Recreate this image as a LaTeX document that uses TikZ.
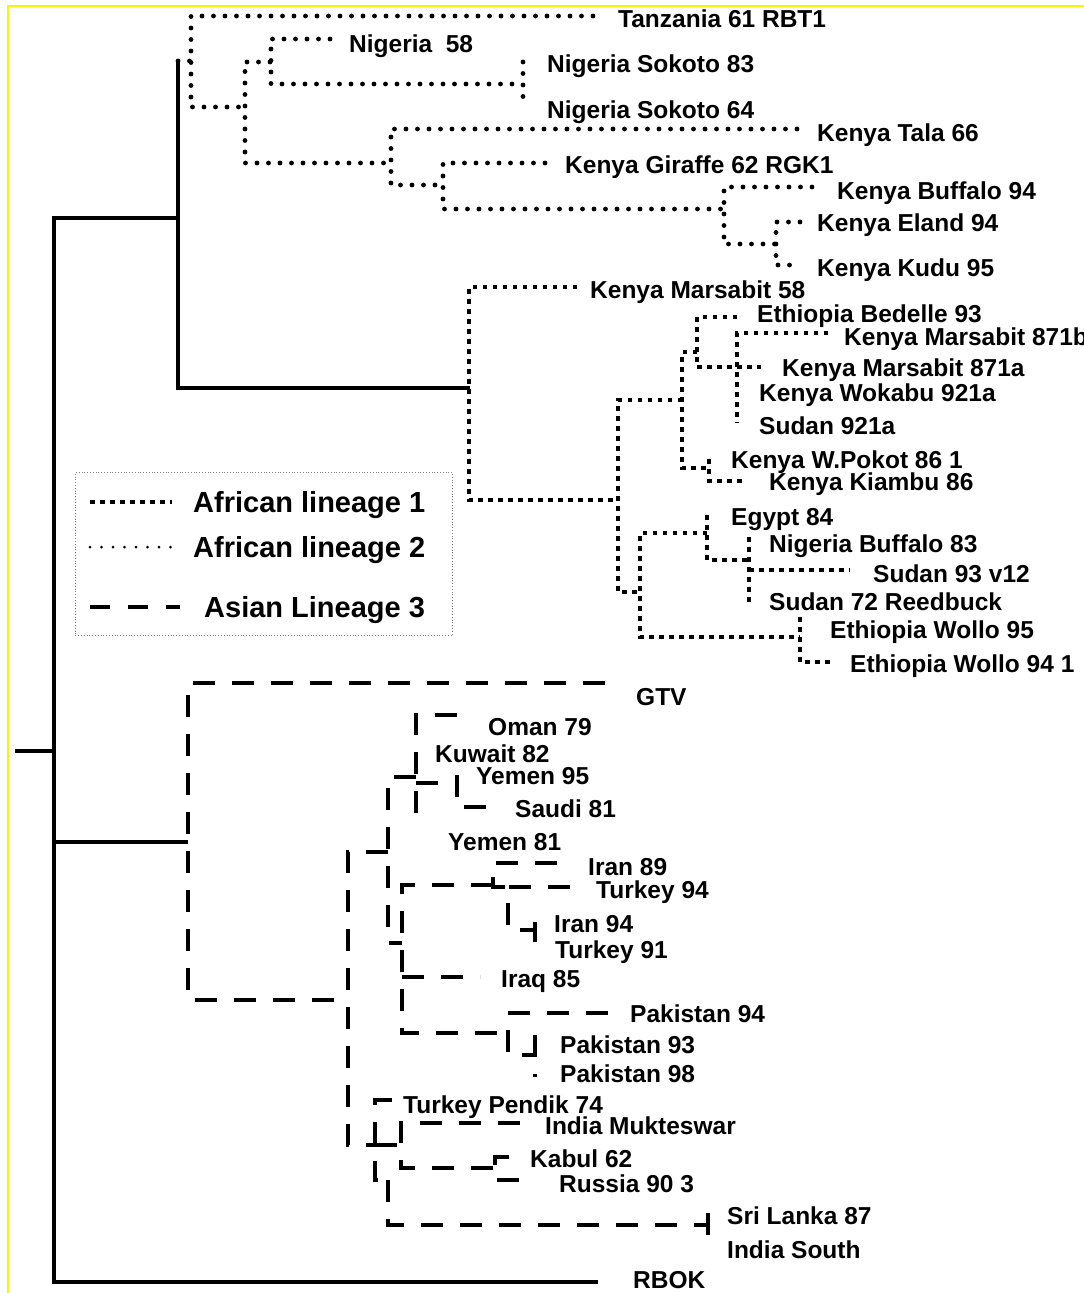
\documentclass[tikz,border=0pt]{standalone}
\usepackage{fontspec}
\setmainfont{Liberation Sans}
\begin{document}
\begin{tikzpicture}[x=1pt,y=-1pt,
  sol/.style={line width=4pt,line join=miter},
  ltwo/.style={line width=4.8pt,line cap=round,dash pattern=on 0pt off 11.5pt},
  ltwoleg/.style={line width=3pt,line cap=round,dash pattern=on 0pt off 11.5pt},
  lone/.style={line width=4.5pt,dash pattern=on 4.5pt off 5.5pt},
  asn/.style={line width=4.5pt,dash pattern=on 22pt off 17pt},
  lab/.style={anchor=base west,inner sep=0pt,font=\fontsize{24.5}{26}\selectfont\bfseries},
  leglab/.style={anchor=base west,inner sep=0pt,font=\fontsize{29}{31}\selectfont\bfseries}]
\useasboundingbox (0,0) rectangle (1084,1293);
\fill[white] (0,0) rectangle (1084,1293);
\draw[yellow,line width=2pt] (8,6) rectangle (1100,1310);

% ---------- solid backbone ----------
\coordinate (R0) at (15,751);  \coordinate (R1) at (54,751);
\coordinate (Ta) at (54,218);  \coordinate (Tb) at (178,218);
\coordinate (Tt) at (178,60);  \coordinate (Tm) at (178,388);
\coordinate (Mm) at (470,388);
\coordinate (Ma) at (54,842);  \coordinate (Mb) at (188,842);
\coordinate (Ba) at (54,1282); \coordinate (Bb) at (598,1282);
\draw[sol] (R0) -- (R1);
\draw[sol] (Tb) -- (Ta) -- (Ba) -- (Bb);
\draw[sol] (Tt) -- (Tm) -- (Mm);
\draw[sol] (Ma) -- (Mb);

% ---------- African lineage 2 (top cluster) ----------
\coordinate (s0) at (178,61);  \coordinate (s1) at (191,61);
\coordinate (tzE) at (593,16); \coordinate (Ab) at (191,107); \coordinate (Bm) at (245,107);
\coordinate (Bt) at (270,62);  \coordinate (Bbt) at (245,163); \coordinate (Em) at (391,163);
\coordinate (n58) at (330,39); \coordinate (Cb) at (271,84); \coordinate (Dm) at (523,84);
\coordinate (Dt) at (523,62);  \coordinate (Db) at (523,107);
\coordinate (talE) at (797,129); \coordinate (Eb) at (391,185); \coordinate (Fm) at (443,185);
\coordinate (girE) at (545,163); \coordinate (Fb) at (443,209); \coordinate (Gm) at (724,209);
\coordinate (bufE) at (812,187); \coordinate (Gb) at (724,244); \coordinate (Hm) at (776,244);
\coordinate (elE) at (800,222); \coordinate (Hb) at (776,265); \coordinate (kuE) at (800,265);
\draw[ltwo] (s0) -- (s1);
\draw[ltwo] (tzE) -| (Ab) -- (Bm);
\draw[ltwo] (Bt) -| (Bbt) -- (Em);
\draw[ltwo] (n58) -| (Cb) -- (Dm);
\draw[ltwo] (Dt) -- (Db);
\draw[ltwo] (talE) -| (Eb) -- (Fm);
\draw[ltwo] (girE) -| (Fb) -- (Gm);
\draw[ltwo] (bufE) -| (Gb) -- (Hm);
\draw[ltwo] (elE) -| (Hb) -- (kuE);

% ---------- African lineage 1 ----------
\coordinate (m58E) at (577,287); \coordinate (Mbot) at (469,500); \coordinate (Nm) at (618,500);
\coordinate (Nt) at (682,400); \coordinate (Nb) at (618,592); \coordinate (Tmid) at (640,592);
\coordinate (Pt) at (697,352); \coordinate (Pb) at (682,468); \coordinate (Rm) at (709,468);
\coordinate (bedE) at (737,317); \coordinate (Qb) at (697,367); \coordinate (m871aE) at (761,367);
\coordinate (m871bE) at (828,333); \coordinate (Sb) at (737,423);
\coordinate (Rt) at (709,459); \coordinate (Rb) at (709,481); \coordinate (kiaE) at (747,481);
\coordinate (Ut) at (707,533); \coordinate (Tbt) at (640,637); \coordinate (Wm) at (800,637);
\coordinate (Utop) at (707,515); \coordinate (Ub) at (707,560); \coordinate (Vm) at (749,560);
\coordinate (Vt) at (749,537); \coordinate (Vb) at (749,605);
\coordinate (Vs) at (749,570); \coordinate (s93E) at (850,570);
\coordinate (Wt) at (800,617); \coordinate (Wb) at (800,662); \coordinate (wolE) at (830,662);
\draw[lone] (m58E) -| (Mbot) -- (Nm);
\draw[lone] (Nt) -| (Nb) -- (Tmid);
\draw[lone] (Pt) -| (Pb) -- (Rm);
\draw[lone] (bedE) -| (Qb) -- (m871aE);
\draw[lone] (m871bE) -| (Sb);
\draw[lone] (Rt) -- (Rb) -- (kiaE);
\draw[lone] (Ut) -| (Tbt) -- (Wm);
\draw[lone] (Utop) -- (Ub) -- (Vm);
\draw[lone] (Vt) -- (Vb);
\draw[lone] (Vs) -- (s93E);
\draw[lone] (Wt) -- (Wb) -- (wolE);

% ---------- Asian lineage 3 ----------
\coordinate (gtvE) at (605,683); \coordinate (Gab) at (188,1000); \coordinate (Xm) at (348,1000);
\coordinate (Xt) at (388,852); \coordinate (Xb) at (348,1145); \coordinate (HHm) at (375,1145);
\coordinate (Yt) at (416,777); \coordinate (Yb) at (388,943); \coordinate (BBm) at (402,943);
\coordinate (omE) at (457,715); \coordinate (Zb) at (416,817);
\coordinate (Zm) at (416,783); \coordinate (AAm) at (457,783);
\coordinate (AAt) at (457,775); \coordinate (AAb) at (457,807); \coordinate (sauE) at (496,807);
\coordinate (CCm) at (493,885); \coordinate (BBb) at (402,1033); \coordinate (FFm) at (508,1033);
\coordinate (BBi) at (402,977); \coordinate (iraqE) at (480,977);
\coordinate (ir89E) at (557,863); \coordinate (CCb) at (493,887); \coordinate (DDt) at (508,887);
\coordinate (tu94E) at (570,887); \coordinate (DDb) at (508,930); \coordinate (EEm) at (535,930);
\coordinate (EEt) at (535,922); \coordinate (EEb) at (535,942);
\coordinate (pk94E) at (608,1013); \coordinate (FFb) at (508,1055); \coordinate (GGm) at (535,1055);
\coordinate (GGt) at (535,1035); \coordinate (GGb) at (535,1077);
\coordinate (tpE) at (392,1100); \coordinate (HHb) at (375,1180); \coordinate (IIt) at (388,1180);
\coordinate (NNm) at (401,1145);
\coordinate (imE) at (520,1123); \coordinate (NNb) at (401,1168); \coordinate (LLm) at (495,1168);
\coordinate (kabE) at (509,1157); \coordinate (LLb) at (495,1180); \coordinate (rusE) at (533,1180);
\coordinate (JJm) at (708,1225); \coordinate (JJt) at (708,1213); \coordinate (JJb) at (708,1237);
\draw[asn] (gtvE) -| (Gab) -- (Xm);
\draw[asn] (Xt) -| (Xb) -- (HHm);
\draw[asn] (Yt) -| (Yb) -- (BBm);
\draw[asn] (omE) -| (Zb);
\draw[asn] (Zm) -- (AAm);
\draw[asn] (AAt) -- (AAb) -- (sauE);
\draw[asn] (CCm) -| (BBb) -- (FFm);
\draw[asn] (BBi) -- (iraqE);
\draw[asn] (ir89E) -| (CCb) -- (DDt);
\draw[asn] (tu94E) -| (DDb) -- (EEm);
\draw[asn] (EEt) -- (EEb);
\draw[asn] (pk94E) -| (FFb) -- (GGm);
\draw[asn] (GGt) -- (GGb);
\draw[asn] (tpE) -| (HHb) -- (IIt);
\draw[asn] (HHm) -- (NNm);
\draw[asn] (imE) -| (NNb) -- (LLm);
\draw[asn] (kabE) -| (LLb) -- (rusE);
\draw[asn] (IIt) |- (JJm);
\draw[asn] (JJt) -- (JJb);

% ---------- labels ----------
\node[lab] (L1) at (618,27) {Tanzania 61 RBT1};
\node[lab] (L2) at (349,52) {Nigeria~~58};
\node[lab] (L3) at (547,72) {Nigeria Sokoto 83};
\node[lab] (L4) at (547,118) {Nigeria Sokoto 64};
\node[lab] (L5) at (817,141) {Kenya Tala 66};
\node[lab] (L6) at (565,173) {Kenya Giraffe 62 RGK1};
\node[lab] (L7) at (837,199) {Kenya Buffalo 94};
\node[lab] (L8) at (817,231) {Kenya Eland 94};
\node[lab] (L9) at (817,276) {Kenya Kudu 95};
\node[lab] (L10) at (590,298) {Kenya Marsabit 58};
\node[lab] (L11) at (757,322) {Ethiopia Bedelle 93};
\node[lab] (L12) at (844,345) {Kenya Marsabit 871b};
\node[lab] (L13) at (782,376) {Kenya Marsabit 871a};
\node[lab] (L14) at (759,401) {Kenya Wokabu 921a};
\node[lab] (L15) at (759,434) {Sudan 921a};
\node[lab] (L16) at (731,468) {Kenya W.Pokot 86 1};
\node[lab] (L17) at (769,490) {Kenya Kiambu 86};
\node[lab] (L18) at (731,525) {Egypt 84};
\node[lab] (L19) at (769,552) {Nigeria Buffalo 83};
\node[lab] (L20) at (873,582) {Sudan 93 v12};
\node[lab] (L21) at (769,610) {Sudan 72 Reedbuck};
\node[lab] (L22) at (830,638) {Ethiopia Wollo 95};
\node[lab] (L23) at (850,672) {Ethiopia Wollo 94 1};
\node[lab] (L24) at (636,705) {GTV};
\node[lab] (L25) at (488,735) {Oman 79};
\node[lab] (L26) at (435,762) {Kuwait 82};
\node[lab] (L27) at (476,784) {Yemen 95};
\node[lab] (L28) at (515,817) {Saudi 81};
\node[lab] (L29) at (448,850) {Yemen 81};
\node[lab] (L30) at (588,875) {Iran 89};
\node[lab] (L31) at (596,898) {Turkey 94};
\node[lab] (L32) at (554,932) {Iran 94};
\node[lab] (L33) at (555,958) {Turkey 91};
\node[lab] (L34) at (501,987) {Iraq 85};
\node[lab] (L35) at (630,1022) {Pakistan 94};
\node[lab] (L36) at (560,1053) {Pakistan 93};
\node[lab] (L37) at (560,1082) {Pakistan 98};
\node[lab] (L38) at (403,1113) {Turkey Pendik 74};
\node[lab] (L39) at (545,1134) {India Mukteswar};
\node[lab] (L40) at (530,1167) {Kabul 62};
\node[lab] (L41) at (559,1192) {Russia 90 3};
\node[lab] (L42) at (727,1224) {Sri Lanka 87};
\node[lab] (L43) at (727,1258) {India South};
\node[lab] (L44) at (633,1288) {RBOK};

% ---------- legend ----------
\node[draw=gray,line width=0.8pt,dotted,minimum width=377pt,minimum height=163pt,anchor=north west,inner sep=0pt] (legbox) at (75,472) {};
\coordinate (g1a) at (90,502);  \coordinate (g1b) at (172,502);
\coordinate (g2a) at (90,547);  \coordinate (g2b) at (172,547);
\coordinate (g3a) at (90,607);  \coordinate (g3b) at (180,607);
\draw[lone] (g1a) -- (g1b);
\draw[ltwoleg] (g2a) -- (g2b);
\draw[line width=4.5pt,dash pattern=on 20pt off 18pt] (g3a) -- (g3b);
\node[leglab] (G1) at (193,512) {African lineage 1};
\node[leglab] (G2) at (193,557) {African lineage 2};
\node[leglab] (G3) at (204,617) {Asian Lineage 3};
\end{tikzpicture}
\end{document}
